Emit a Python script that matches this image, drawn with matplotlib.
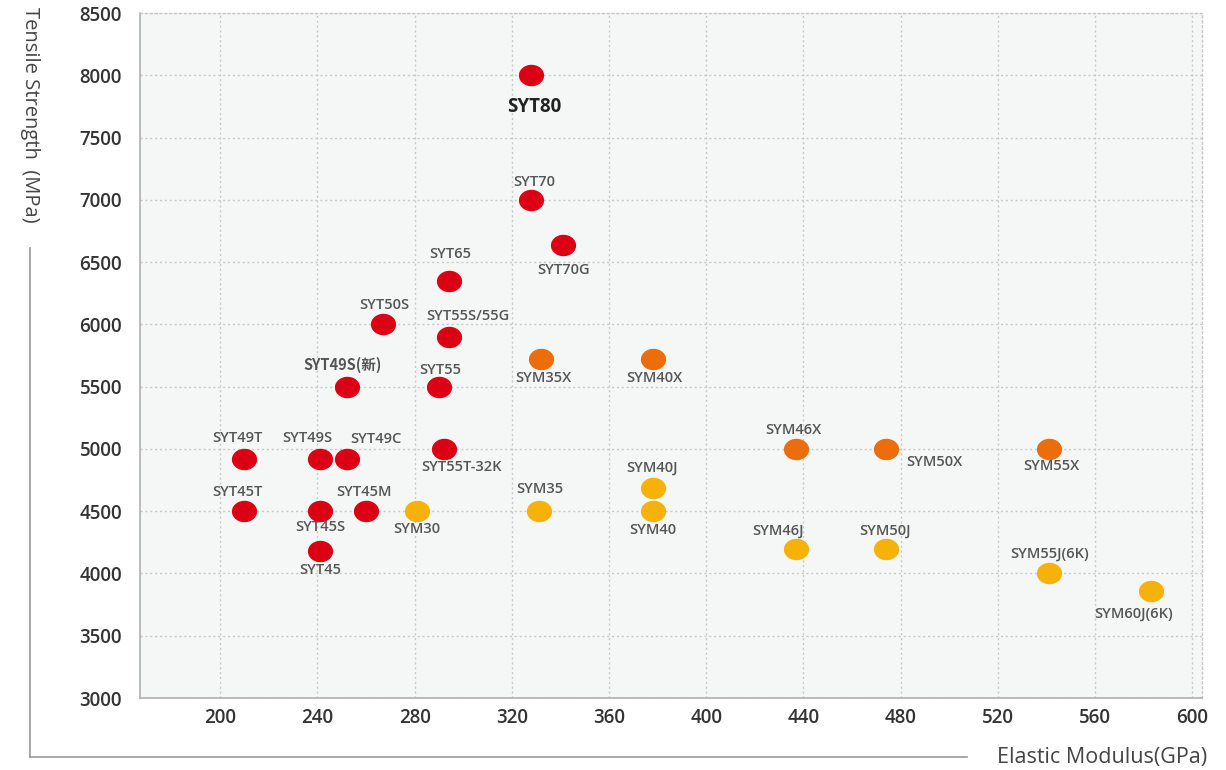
import matplotlib
matplotlib.use("Agg")
import matplotlib.pyplot as plt
from matplotlib.path import Path
from matplotlib.lines import Line2D
import numpy as np

plt.rcParams['font.family'] = ['Open Sans', 'Noto Sans CJK SC', 'DejaVu Sans']

# ---- data ----
names = ["SYT80", "SYT70", "SYT70G", "SYT65", "SYT50S", "SYT55S/55G",
         "SYT49S(新)", "SYT55", "SYT49T", "SYT49S", "SYT49C", "SYT55T-32K",
         "SYT45T", "SYT45S", "SYT45M", "SYT45",
         "SYM35X", "SYM40X", "SYM46X", "SYM50X", "SYM55X",
         "SYM30", "SYM35", "SYM40J", "SYM40", "SYM46J", "SYM50J",
         "SYM55J(6K)", "SYM60J(6K)"]
modulus = [328, 328, 341, 294, 267, 294,
           252, 290, 210, 241, 252, 292,
           210, 241, 260, 241,
           332, 378, 437, 474, 541,
           281, 331, 378, 378, 437, 474,
           541, 583]
strength = [8000, 7000, 6640, 6350, 6000, 5900,
            5500, 5500, 4920, 4920, 4920, 5000,
            4500, 4500, 4500, 4180,
            5720, 5720, 5000, 5000, 5000,
            4500, 4500, 4690, 4500, 4200, 4200,
            4000, 3860]
group = ["T"] * 16 + ["X"] * 5 + ["J"] * 8

# label offsets in pixels (dx, dy), layout only
offsets = [(3, -32), (3, 18), (1, -25), (2, 27), (1, 19), (19, 21),
           (-4, 22), (1, 17), (-7, 21), (-13, 21), (29, 20), (18, -18),
           (-7, 19), (0, -16), (-2, 19), (0, -19),
           (2, -19), (2, -19), (-3, 19), (48, -13), (2, -17),
           (0, -18), (1, 22), (-1, 20), (0, -19), (-18, 18), (-1, 18),
           (1, 19), (-17, -23)]

colors = {"T": "#dc0014", "X": "#ec6d0c", "J": "#f7b20a"}

W, H = 1226, 770
fig = plt.figure(figsize=(W / 100, H / 100), dpi=100)
ax = fig.add_axes([140 / W, 1 - 698 / H, (1202 - 140) / W, (698 - 13) / H])
ax.set_facecolor("#f5f6f6")

t = np.linspace(0, 2 * np.pi, 60)
ell = Path(np.column_stack([np.cos(t), 0.85 * np.sin(t)]), closed=True)

for g in ["T", "X", "J"]:
    xs = [m for m, gg in zip(modulus, group) if gg == g]
    ys = [s for s, gg in zip(strength, group) if gg == g]
    ax.scatter(xs, ys, s=330, marker=ell, color=colors[g], zorder=3,
               linewidths=0)

for n, x, y, (dx, dy) in zip(names, modulus, strength, offsets):
    kw = dict(textcoords="offset points", ha="center", va="center", zorder=4)
    if n == "SYT80":
        ax.annotate(n, (x, y), xytext=(dx * 0.72, dy * 0.72),
                    fontsize=13.5, fontweight="bold", color="#222222", **kw)
    elif any(ord(c) > 0x2e80 for c in n):
        ax.annotate(n, (x, y), xytext=(dx * 0.72, dy * 0.72),
                    fontsize=10.5, color="#555555", fontweight="bold",
                    family=['Noto Sans CJK SC', 'DejaVu Sans'], **kw)
    else:
        ax.annotate(n, (x, y), xytext=(dx * 0.72, dy * 0.72),
                    fontsize=10.5, color="#555555", fontweight="semibold", **kw)

ax.set_xlim(167, 604)
ax.set_ylim(3000, 8500)
xticks = [200, 240, 280, 320, 360, 400, 440, 480, 520, 560, 600]
yticks = [3000, 3500, 4000, 4500, 5000, 5500, 6000, 6500, 7000, 7500, 8000, 8500]
ax.set_xticks(xticks)
ax.set_yticks(yticks)
ax.tick_params(axis="both", length=0, labelsize=13.5, labelcolor="#333333")
ax.tick_params(axis="y", pad=13)
ax.tick_params(axis="x", pad=7)
for lab in ax.get_xticklabels() + ax.get_yticklabels():
    lab.set_fontweight("semibold")

ax.grid(True, linestyle=(0, (1.5, 2)), color="#c9c9c9", linewidth=1)
ax.set_axisbelow(True)
for side in ["left", "bottom"]:
    ax.spines[side].set_color("#b0b0b0")
    ax.spines[side].set_linewidth(1.2)
for side in ["top", "right"]:
    ax.spines[side].set_color("#c9c9c9")
    ax.spines[side].set_linestyle((0, (1.5, 2)))
    ax.spines[side].set_linewidth(1)

# outer L-shaped frame
fig.add_artist(Line2D([30 / W, 30 / W], [1 - 248 / H, 1 - 757 / H],
                      color="#999999", linewidth=1.2))
fig.add_artist(Line2D([30 / W, 967 / W], [1 - 757 / H, 1 - 757 / H],
                      color="#999999", linewidth=1.2))

fig.text(30 / W, 1 - 7 / H, "Tensile Strength  (MPa)", rotation=270,
         ha="center", va="top", fontsize=14.5, color="#444444")
fig.text(1207 / W, 1 - 757 / H, "Elastic Modulus(GPa)", ha="right",
         va="center", fontsize=15.5, color="#444444")

fig.savefig("out.png", dpi=100, facecolor="white")
